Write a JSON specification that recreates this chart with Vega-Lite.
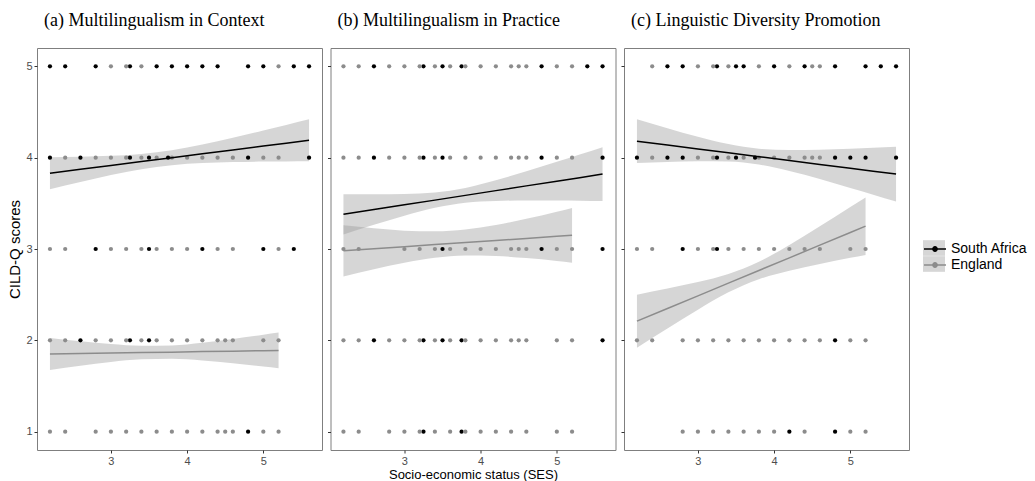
{
"$schema": "https://vega.github.io/schema/vega-lite/v6.json",
"padding": {"left": 7, "top": 11, "right": 0, "bottom": 0},
"background": "white",
"datasets": {
"pts": [
{"p":"a","g":"South Africa","x":2.2,"y":5},{"p":"a","g":"South Africa","x":2.4,"y":5},{"p":"a","g":"South Africa","x":2.8,"y":5},{"p":"a","g":"South Africa","x":3.25,"y":5},{"p":"a","g":"South Africa","x":3.6,"y":5},{"p":"a","g":"South Africa","x":3.8,"y":5},{"p":"a","g":"South Africa","x":4.0,"y":5},{"p":"a","g":"South Africa","x":4.2,"y":5},{"p":"a","g":"South Africa","x":4.4,"y":5},{"p":"a","g":"South Africa","x":4.8,"y":5},{"p":"a","g":"South Africa","x":5.0,"y":5},{"p":"a","g":"South Africa","x":5.4,"y":5},{"p":"a","g":"South Africa","x":5.6,"y":5},
{"p":"a","g":"South Africa","x":2.2,"y":4},{"p":"a","g":"South Africa","x":2.6,"y":4},{"p":"a","g":"South Africa","x":3.25,"y":4},{"p":"a","g":"South Africa","x":3.5,"y":4},{"p":"a","g":"South Africa","x":3.75,"y":4},{"p":"a","g":"South Africa","x":4.8,"y":4},{"p":"a","g":"South Africa","x":5.6,"y":4},
{"p":"a","g":"South Africa","x":2.8,"y":3},{"p":"a","g":"South Africa","x":3.5,"y":3},{"p":"a","g":"South Africa","x":4.2,"y":3},{"p":"a","g":"South Africa","x":5.0,"y":3},{"p":"a","g":"South Africa","x":5.4,"y":3},
{"p":"a","g":"South Africa","x":2.6,"y":2},{"p":"a","g":"South Africa","x":3.25,"y":2},{"p":"a","g":"South Africa","x":3.5,"y":2},
{"p":"a","g":"South Africa","x":4.8,"y":1},
{"p":"a","g":"England","x":3.0,"y":5},{"p":"a","g":"England","x":3.2,"y":5},{"p":"a","g":"England","x":3.4,"y":5},{"p":"a","g":"England","x":5.2,"y":5},
{"p":"a","g":"England","x":2.4,"y":4},{"p":"a","g":"England","x":2.8,"y":4},{"p":"a","g":"England","x":3.0,"y":4},{"p":"a","g":"England","x":3.2,"y":4},{"p":"a","g":"England","x":3.4,"y":4},{"p":"a","g":"England","x":3.6,"y":4},{"p":"a","g":"England","x":3.8,"y":4},{"p":"a","g":"England","x":4.0,"y":4},{"p":"a","g":"England","x":4.2,"y":4},{"p":"a","g":"England","x":4.4,"y":4},{"p":"a","g":"England","x":4.6,"y":4},{"p":"a","g":"England","x":5.0,"y":4},{"p":"a","g":"England","x":5.2,"y":4},
{"p":"a","g":"England","x":2.2,"y":3},{"p":"a","g":"England","x":2.4,"y":3},{"p":"a","g":"England","x":3.0,"y":3},{"p":"a","g":"England","x":3.2,"y":3},{"p":"a","g":"England","x":3.4,"y":3},{"p":"a","g":"England","x":3.6,"y":3},{"p":"a","g":"England","x":3.8,"y":3},{"p":"a","g":"England","x":4.0,"y":3},{"p":"a","g":"England","x":4.4,"y":3},{"p":"a","g":"England","x":4.6,"y":3},{"p":"a","g":"England","x":5.2,"y":3},
{"p":"a","g":"England","x":2.2,"y":2},{"p":"a","g":"England","x":2.4,"y":2},{"p":"a","g":"England","x":2.8,"y":2},{"p":"a","g":"England","x":3.0,"y":2},{"p":"a","g":"England","x":3.2,"y":2},{"p":"a","g":"England","x":3.4,"y":2},{"p":"a","g":"England","x":3.6,"y":2},{"p":"a","g":"England","x":3.8,"y":2},{"p":"a","g":"England","x":4.0,"y":2},{"p":"a","g":"England","x":4.2,"y":2},{"p":"a","g":"England","x":4.4,"y":2},{"p":"a","g":"England","x":4.5,"y":2},{"p":"a","g":"England","x":4.6,"y":2},{"p":"a","g":"England","x":5.0,"y":2},{"p":"a","g":"England","x":5.2,"y":2},
{"p":"a","g":"England","x":2.2,"y":1},{"p":"a","g":"England","x":2.4,"y":1},{"p":"a","g":"England","x":2.8,"y":1},{"p":"a","g":"England","x":3.0,"y":1},{"p":"a","g":"England","x":3.2,"y":1},{"p":"a","g":"England","x":3.4,"y":1},{"p":"a","g":"England","x":3.6,"y":1},{"p":"a","g":"England","x":3.8,"y":1},{"p":"a","g":"England","x":4.0,"y":1},{"p":"a","g":"England","x":4.2,"y":1},{"p":"a","g":"England","x":4.4,"y":1},{"p":"a","g":"England","x":4.5,"y":1},{"p":"a","g":"England","x":4.6,"y":1},{"p":"a","g":"England","x":5.0,"y":1},{"p":"a","g":"England","x":5.2,"y":1},

{"p":"b","g":"South Africa","x":2.6,"y":5},{"p":"b","g":"South Africa","x":3.25,"y":5},{"p":"b","g":"South Africa","x":3.5,"y":5},{"p":"b","g":"South Africa","x":3.75,"y":5},{"p":"b","g":"South Africa","x":4.8,"y":5},{"p":"b","g":"South Africa","x":5.4,"y":5},{"p":"b","g":"South Africa","x":5.6,"y":5},
{"p":"b","g":"South Africa","x":2.6,"y":4},{"p":"b","g":"South Africa","x":3.25,"y":4},{"p":"b","g":"South Africa","x":3.5,"y":4},{"p":"b","g":"South Africa","x":4.8,"y":4},{"p":"b","g":"South Africa","x":5.6,"y":4},
{"p":"b","g":"South Africa","x":3.5,"y":3},{"p":"b","g":"South Africa","x":4.8,"y":3},{"p":"b","g":"South Africa","x":5.6,"y":3},
{"p":"b","g":"South Africa","x":2.6,"y":2},{"p":"b","g":"South Africa","x":3.25,"y":2},{"p":"b","g":"South Africa","x":3.5,"y":2},{"p":"b","g":"South Africa","x":3.75,"y":2},{"p":"b","g":"South Africa","x":5.6,"y":2},
{"p":"b","g":"South Africa","x":3.25,"y":1},{"p":"b","g":"South Africa","x":3.75,"y":1},
{"p":"b","g":"England","x":2.2,"y":5},{"p":"b","g":"England","x":2.4,"y":5},{"p":"b","g":"England","x":2.8,"y":5},{"p":"b","g":"England","x":3.0,"y":5},{"p":"b","g":"England","x":3.2,"y":5},{"p":"b","g":"England","x":3.4,"y":5},{"p":"b","g":"England","x":3.6,"y":5},{"p":"b","g":"England","x":3.8,"y":5},{"p":"b","g":"England","x":4.0,"y":5},{"p":"b","g":"England","x":4.2,"y":5},{"p":"b","g":"England","x":4.4,"y":5},{"p":"b","g":"England","x":4.5,"y":5},{"p":"b","g":"England","x":4.6,"y":5},{"p":"b","g":"England","x":5.0,"y":5},{"p":"b","g":"England","x":5.2,"y":5},
{"p":"b","g":"England","x":2.2,"y":4},{"p":"b","g":"England","x":2.4,"y":4},{"p":"b","g":"England","x":2.8,"y":4},{"p":"b","g":"England","x":3.0,"y":4},{"p":"b","g":"England","x":3.2,"y":4},{"p":"b","g":"England","x":3.4,"y":4},{"p":"b","g":"England","x":3.6,"y":4},{"p":"b","g":"England","x":3.8,"y":4},{"p":"b","g":"England","x":4.0,"y":4},{"p":"b","g":"England","x":4.2,"y":4},{"p":"b","g":"England","x":4.4,"y":4},{"p":"b","g":"England","x":4.5,"y":4},{"p":"b","g":"England","x":4.6,"y":4},{"p":"b","g":"England","x":5.0,"y":4},{"p":"b","g":"England","x":5.2,"y":4},
{"p":"b","g":"England","x":2.2,"y":3},{"p":"b","g":"England","x":2.4,"y":3},{"p":"b","g":"England","x":3.0,"y":3},{"p":"b","g":"England","x":3.2,"y":3},{"p":"b","g":"England","x":3.4,"y":3},{"p":"b","g":"England","x":3.6,"y":3},{"p":"b","g":"England","x":3.8,"y":3},{"p":"b","g":"England","x":4.0,"y":3},{"p":"b","g":"England","x":4.2,"y":3},{"p":"b","g":"England","x":4.4,"y":3},{"p":"b","g":"England","x":4.5,"y":3},{"p":"b","g":"England","x":4.6,"y":3},{"p":"b","g":"England","x":5.0,"y":3},{"p":"b","g":"England","x":5.2,"y":3},
{"p":"b","g":"England","x":2.2,"y":2},{"p":"b","g":"England","x":2.4,"y":2},{"p":"b","g":"England","x":2.8,"y":2},{"p":"b","g":"England","x":3.0,"y":2},{"p":"b","g":"England","x":3.2,"y":2},{"p":"b","g":"England","x":3.4,"y":2},{"p":"b","g":"England","x":3.6,"y":2},{"p":"b","g":"England","x":3.8,"y":2},{"p":"b","g":"England","x":4.0,"y":2},{"p":"b","g":"England","x":4.2,"y":2},{"p":"b","g":"England","x":4.4,"y":2},{"p":"b","g":"England","x":4.5,"y":2},{"p":"b","g":"England","x":4.6,"y":2},{"p":"b","g":"England","x":5.0,"y":2},{"p":"b","g":"England","x":5.2,"y":2},
{"p":"b","g":"England","x":2.2,"y":1},{"p":"b","g":"England","x":2.4,"y":1},{"p":"b","g":"England","x":2.8,"y":1},{"p":"b","g":"England","x":3.0,"y":1},{"p":"b","g":"England","x":3.2,"y":1},{"p":"b","g":"England","x":3.4,"y":1},{"p":"b","g":"England","x":3.6,"y":1},{"p":"b","g":"England","x":3.8,"y":1},{"p":"b","g":"England","x":4.0,"y":1},{"p":"b","g":"England","x":4.2,"y":1},{"p":"b","g":"England","x":4.4,"y":1},{"p":"b","g":"England","x":4.6,"y":1},{"p":"b","g":"England","x":5.0,"y":1},{"p":"b","g":"England","x":5.2,"y":1},

{"p":"c","g":"South Africa","x":2.6,"y":5},{"p":"c","g":"South Africa","x":2.8,"y":5},{"p":"c","g":"South Africa","x":3.25,"y":5},{"p":"c","g":"South Africa","x":3.5,"y":5},{"p":"c","g":"South Africa","x":3.6,"y":5},{"p":"c","g":"South Africa","x":4.0,"y":5},{"p":"c","g":"South Africa","x":4.4,"y":5},{"p":"c","g":"South Africa","x":4.8,"y":5},{"p":"c","g":"South Africa","x":5.2,"y":5},{"p":"c","g":"South Africa","x":5.4,"y":5},{"p":"c","g":"South Africa","x":5.6,"y":5},
{"p":"c","g":"South Africa","x":2.2,"y":4},{"p":"c","g":"South Africa","x":2.6,"y":4},{"p":"c","g":"South Africa","x":2.8,"y":4},{"p":"c","g":"South Africa","x":3.25,"y":4},{"p":"c","g":"South Africa","x":3.5,"y":4},{"p":"c","g":"South Africa","x":3.75,"y":4},{"p":"c","g":"South Africa","x":4.8,"y":4},{"p":"c","g":"South Africa","x":5.0,"y":4},{"p":"c","g":"South Africa","x":5.2,"y":4},{"p":"c","g":"South Africa","x":5.6,"y":4},
{"p":"c","g":"South Africa","x":2.8,"y":3},{"p":"c","g":"South Africa","x":3.25,"y":3},
{"p":"c","g":"South Africa","x":4.8,"y":2},
{"p":"c","g":"South Africa","x":4.2,"y":1},{"p":"c","g":"South Africa","x":4.8,"y":1},
{"p":"c","g":"England","x":2.4,"y":5},{"p":"c","g":"England","x":3.0,"y":5},{"p":"c","g":"England","x":3.2,"y":5},{"p":"c","g":"England","x":3.4,"y":5},{"p":"c","g":"England","x":3.8,"y":5},{"p":"c","g":"England","x":4.2,"y":5},{"p":"c","g":"England","x":4.5,"y":5},{"p":"c","g":"England","x":4.6,"y":5},
{"p":"c","g":"England","x":2.4,"y":4},{"p":"c","g":"England","x":3.0,"y":4},{"p":"c","g":"England","x":3.2,"y":4},{"p":"c","g":"England","x":3.4,"y":4},{"p":"c","g":"England","x":3.6,"y":4},{"p":"c","g":"England","x":3.8,"y":4},{"p":"c","g":"England","x":4.0,"y":4},{"p":"c","g":"England","x":4.2,"y":4},{"p":"c","g":"England","x":4.4,"y":4},{"p":"c","g":"England","x":4.5,"y":4},{"p":"c","g":"England","x":4.6,"y":4},
{"p":"c","g":"England","x":2.2,"y":3},{"p":"c","g":"England","x":2.4,"y":3},{"p":"c","g":"England","x":3.0,"y":3},{"p":"c","g":"England","x":3.2,"y":3},{"p":"c","g":"England","x":3.4,"y":3},{"p":"c","g":"England","x":3.6,"y":3},{"p":"c","g":"England","x":3.8,"y":3},{"p":"c","g":"England","x":4.0,"y":3},{"p":"c","g":"England","x":4.2,"y":3},{"p":"c","g":"England","x":4.4,"y":3},{"p":"c","g":"England","x":4.6,"y":3},{"p":"c","g":"England","x":5.0,"y":3},{"p":"c","g":"England","x":5.2,"y":3},
{"p":"c","g":"England","x":2.2,"y":2},{"p":"c","g":"England","x":2.4,"y":2},{"p":"c","g":"England","x":2.8,"y":2},{"p":"c","g":"England","x":3.0,"y":2},{"p":"c","g":"England","x":3.2,"y":2},{"p":"c","g":"England","x":3.4,"y":2},{"p":"c","g":"England","x":3.6,"y":2},{"p":"c","g":"England","x":3.8,"y":2},{"p":"c","g":"England","x":4.0,"y":2},{"p":"c","g":"England","x":4.2,"y":2},{"p":"c","g":"England","x":4.4,"y":2},{"p":"c","g":"England","x":4.6,"y":2},{"p":"c","g":"England","x":5.0,"y":2},{"p":"c","g":"England","x":5.2,"y":2},
{"p":"c","g":"England","x":2.8,"y":1},{"p":"c","g":"England","x":3.0,"y":1},{"p":"c","g":"England","x":3.2,"y":1},{"p":"c","g":"England","x":3.4,"y":1},{"p":"c","g":"England","x":3.6,"y":1},{"p":"c","g":"England","x":3.8,"y":1},{"p":"c","g":"England","x":4.0,"y":1},{"p":"c","g":"England","x":4.4,"y":1},{"p":"c","g":"England","x":5.0,"y":1},{"p":"c","g":"England","x":5.2,"y":1}
],
"fit": [
{"p":"a","g":"South Africa","x":2.2,"lo":3.655,"fit":3.83,"hi":4.005},{"p":"a","g":"South Africa","x":2.6,"lo":3.734,"fit":3.872,"hi":4.01},{"p":"a","g":"South Africa","x":3.0,"lo":3.81,"fit":3.915,"hi":4.02},{"p":"a","g":"South Africa","x":3.4,"lo":3.873,"fit":3.957,"hi":4.041},{"p":"a","g":"South Africa","x":3.8,"lo":3.917,"fit":3.999,"hi":4.081},{"p":"a","g":"South Africa","x":4.2,"lo":3.94,"fit":4.042,"hi":4.144},{"p":"a","g":"South Africa","x":4.6,"lo":3.951,"fit":4.084,"hi":4.217},{"p":"a","g":"South Africa","x":5.0,"lo":3.957,"fit":4.127,"hi":4.297},{"p":"a","g":"South Africa","x":5.3,"lo":3.958,"fit":4.158,"hi":4.358},{"p":"a","g":"South Africa","x":5.6,"lo":3.96,"fit":4.19,"hi":4.42},
{"p":"a","g":"England","x":2.2,"lo":1.675,"fit":1.85,"hi":2.025},{"p":"a","g":"England","x":2.6,"lo":1.721,"fit":1.855,"hi":1.989},{"p":"a","g":"England","x":3.0,"lo":1.763,"fit":1.861,"hi":1.959},{"p":"a","g":"England","x":3.4,"lo":1.792,"fit":1.866,"hi":1.94},{"p":"a","g":"England","x":3.8,"lo":1.798,"fit":1.871,"hi":1.945},{"p":"a","g":"England","x":4.2,"lo":1.78,"fit":1.877,"hi":1.975},{"p":"a","g":"England","x":4.6,"lo":1.749,"fit":1.882,"hi":2.015},{"p":"a","g":"England","x":5.0,"lo":1.713,"fit":1.887,"hi":2.061},{"p":"a","g":"England","x":5.2,"lo":1.695,"fit":1.89,"hi":2.085},
{"p":"b","g":"South Africa","x":2.2,"lo":3.16,"fit":3.38,"hi":3.6},{"p":"b","g":"South Africa","x":2.6,"lo":3.265,"fit":3.432,"hi":3.599},{"p":"b","g":"South Africa","x":3.0,"lo":3.365,"fit":3.484,"hi":3.603},{"p":"b","g":"South Africa","x":3.4,"lo":3.451,"fit":3.535,"hi":3.619},{"p":"b","g":"South Africa","x":3.8,"lo":3.506,"fit":3.587,"hi":3.668},{"p":"b","g":"South Africa","x":4.2,"lo":3.526,"fit":3.639,"hi":3.752},{"p":"b","g":"South Africa","x":4.6,"lo":3.531,"fit":3.691,"hi":3.851},{"p":"b","g":"South Africa","x":5.0,"lo":3.53,"fit":3.742,"hi":3.954},{"p":"b","g":"South Africa","x":5.3,"lo":3.528,"fit":3.781,"hi":4.034},{"p":"b","g":"South Africa","x":5.6,"lo":3.525,"fit":3.82,"hi":4.115},
{"p":"b","g":"England","x":2.2,"lo":2.7,"fit":2.98,"hi":3.26},{"p":"b","g":"England","x":2.6,"lo":2.779,"fit":3.003,"hi":3.227},{"p":"b","g":"England","x":3.0,"lo":2.849,"fit":3.025,"hi":3.201},{"p":"b","g":"England","x":3.4,"lo":2.903,"fit":3.048,"hi":3.193},{"p":"b","g":"England","x":3.8,"lo":2.928,"fit":3.071,"hi":3.214},{"p":"b","g":"England","x":4.2,"lo":2.923,"fit":3.093,"hi":3.263},{"p":"b","g":"England","x":4.6,"lo":2.901,"fit":3.116,"hi":3.331},{"p":"b","g":"England","x":5.0,"lo":2.869,"fit":3.139,"hi":3.409},{"p":"b","g":"England","x":5.2,"lo":2.85,"fit":3.15,"hi":3.45},
{"p":"c","g":"South Africa","x":2.2,"lo":3.94,"fit":4.18,"hi":4.42},{"p":"c","g":"South Africa","x":2.6,"lo":3.953,"fit":4.138,"hi":4.323},{"p":"c","g":"South Africa","x":3.0,"lo":3.961,"fit":4.095,"hi":4.229},{"p":"c","g":"South Africa","x":3.4,"lo":3.957,"fit":4.053,"hi":4.149},{"p":"c","g":"South Africa","x":3.8,"lo":3.924,"fit":4.011,"hi":4.098},{"p":"c","g":"South Africa","x":4.2,"lo":3.853,"fit":3.968,"hi":4.083},{"p":"c","g":"South Africa","x":4.6,"lo":3.765,"fit":3.926,"hi":4.087},{"p":"c","g":"South Africa","x":5.0,"lo":3.668,"fit":3.883,"hi":4.098},{"p":"c","g":"South Africa","x":5.3,"lo":3.595,"fit":3.852,"hi":4.109},{"p":"c","g":"South Africa","x":5.6,"lo":3.52,"fit":3.82,"hi":4.12},
{"p":"c","g":"England","x":2.2,"lo":1.92,"fit":2.21,"hi":2.5},{"p":"c","g":"England","x":2.6,"lo":2.131,"fit":2.349,"hi":2.567},{"p":"c","g":"England","x":3.0,"lo":2.336,"fit":2.487,"hi":2.638},{"p":"c","g":"England","x":3.4,"lo":2.526,"fit":2.626,"hi":2.727},{"p":"c","g":"England","x":3.8,"lo":2.669,"fit":2.765,"hi":2.861},{"p":"c","g":"England","x":4.2,"lo":2.761,"fit":2.903,"hi":3.045},{"p":"c","g":"England","x":4.6,"lo":2.835,"fit":3.042,"hi":3.249},{"p":"c","g":"England","x":5.0,"lo":2.903,"fit":3.181,"hi":3.459},{"p":"c","g":"England","x":5.2,"lo":2.935,"fit":3.25,"hi":3.565}
]
},
"hconcat": [
{
"width": 285, "height": 402,
"title": {"text": "(a) Multilingualism in Context", "frame": "group", "dx": 7},
"layer": [
{"data": {"name": "fit"}, "transform": [{"filter": "datum.p == 'a'"}],
 "mark": {"type": "area", "interpolate": "monotone", "opacity": 0.4},
 "encoding": {
  "x": {"field": "x", "type": "quantitative", "scale": {"domain": [2.03, 5.77], "nice": false, "zero": false}, "axis": {"values": [3, 4, 5], "format": "d", "title": null}},
  "y": {"field": "lo", "type": "quantitative", "scale": {"domain": [0.8, 5.2], "nice": false, "zero": false}, "axis": {"values": [1, 2, 3, 4, 5], "format": "d", "title": "CILD-Q scores"}},
  "y2": {"field": "hi"},
  "detail": {"field": "g"},
  "fill": {"field": "g", "type": "nominal", "scale": {"domain": ["England", "South Africa"], "range": ["#999999", "#999999"]},
    "legend": {"orient": "none", "legendX": 889, "legendY": 192, "title": null, "symbolType": "M-1.375,-0.98H1.375V0.98H-1.375Z", "symbolSize": 256, "symbolOpacity": 0.4, "symbolStrokeWidth": 0, "labelExpr": "''", "labelFontSize": 14, "rowPadding": 0, "padding": 0, "labelOffset": 7}}
 }},
{"data": {"name": "pts"}, "transform": [{"filter": "datum.p == 'a'"}],
 "mark": {"type": "circle", "size": 18, "opacity": 1},
 "encoding": {
  "x": {"field": "x", "type": "quantitative"},
  "y": {"field": "y", "type": "quantitative"},
  "color": {"field": "g", "type": "nominal", "scale": {"domain": ["South Africa", "England"], "range": ["#000000", "#8c8c8c"]},
    "legend": {"orient": "none", "legendX": 889, "legendY": 192, "title": null, "symbolType": "M-1.375,0H1.375M0.28,0A0.28,0.28,0,1,1,-0.28,0A0.28,0.28,0,1,1,0.28,0Z", "symbolSize": 256, "symbolStrokeWidth": 1.3, "labelFontSize": 14, "labelFont": "Liberation Sans", "labelColor": "#000000", "rowPadding": 0, "padding": 0, "labelOffset": 7,
      "encode": {"symbols": {"update": {"fill": {"scale": "color", "field": "value"}, "stroke": {"scale": "color", "field": "value"}, "opacity": {"value": 1}}}}}}
 }},
{"data": {"name": "fit"}, "transform": [{"filter": "datum.p == 'a'"}],
 "mark": {"type": "line", "strokeWidth": 1.5},
 "encoding": {
  "x": {"field": "x", "type": "quantitative"},
  "y": {"field": "fit", "type": "quantitative"},
  "color": {"field": "g", "type": "nominal"}
 }}
]
},
{
"width": 285, "height": 402,
"title": {"text": "(b) Multilingualism in Practice", "frame": "group", "dx": 7},
"layer": [
{"data": {"name": "fit"}, "transform": [{"filter": "datum.p == 'b'"}],
 "mark": {"type": "area", "interpolate": "monotone", "opacity": 0.4},
 "encoding": {
  "x": {"field": "x", "type": "quantitative", "scale": {"domain": [2.03, 5.77], "nice": false, "zero": false}, "axis": {"values": [3, 4, 5], "format": "d", "title": "Socio-economic status (SES)", "titleFontSize": 13, "titlePadding": 2}},
  "y": {"field": "lo", "type": "quantitative", "scale": {"domain": [0.8, 5.2], "nice": false, "zero": false}, "axis": {"values": [1, 2, 3, 4, 5], "title": null, "labels": false}},
  "y2": {"field": "hi"},
  "detail": {"field": "g"},
  "fill": {"field": "g", "type": "nominal"}
 }},
{"data": {"name": "pts"}, "transform": [{"filter": "datum.p == 'b'"}],
 "mark": {"type": "circle", "size": 18, "opacity": 1},
 "encoding": {
  "x": {"field": "x", "type": "quantitative"},
  "y": {"field": "y", "type": "quantitative"},
  "color": {"field": "g", "type": "nominal"}
 }},
{"data": {"name": "fit"}, "transform": [{"filter": "datum.p == 'b'"}],
 "mark": {"type": "line", "strokeWidth": 1.5},
 "encoding": {
  "x": {"field": "x", "type": "quantitative"},
  "y": {"field": "fit", "type": "quantitative"},
  "color": {"field": "g", "type": "nominal"}
 }}
]
},
{
"width": 285, "height": 402,
"title": {"text": "(c) Linguistic Diversity Promotion", "frame": "group", "dx": 7},
"layer": [
{"data": {"name": "fit"}, "transform": [{"filter": "datum.p == 'c'"}],
 "mark": {"type": "area", "interpolate": "monotone", "opacity": 0.4},
 "encoding": {
  "x": {"field": "x", "type": "quantitative", "scale": {"domain": [2.03, 5.77], "nice": false, "zero": false}, "axis": {"values": [3, 4, 5], "format": "d", "title": null}},
  "y": {"field": "lo", "type": "quantitative", "scale": {"domain": [0.8, 5.2], "nice": false, "zero": false}, "axis": {"values": [1, 2, 3, 4, 5], "title": null, "labels": false}},
  "y2": {"field": "hi"},
  "detail": {"field": "g"},
  "fill": {"field": "g", "type": "nominal"}
 }},
{"data": {"name": "pts"}, "transform": [{"filter": "datum.p == 'c'"}],
 "mark": {"type": "circle", "size": 18, "opacity": 1},
 "encoding": {
  "x": {"field": "x", "type": "quantitative"},
  "y": {"field": "y", "type": "quantitative"},
  "color": {"field": "g", "type": "nominal"}
 }},
{"data": {"name": "fit"}, "transform": [{"filter": "datum.p == 'c'"}],
 "mark": {"type": "line", "strokeWidth": 1.5},
 "encoding": {
  "x": {"field": "x", "type": "quantitative"},
  "y": {"field": "fit", "type": "quantitative"},
  "color": {"field": "g", "type": "nominal"}
 }}
]
}
],
"spacing": 8.5,
"bounds": "flush",
"resolve": {"scale": {"color": "shared", "fill": "shared"}},
"config": {
 "view": {"stroke": "#7f7f7f", "strokeWidth": 1},
 "axis": {"grid": false, "domain": false, "labelFont": "Liberation Sans", "titleFont": "Liberation Sans", "labelFontSize": 11, "labelColor": "#4d4d4d", "tickColor": "#333333", "tickSize": 3, "labelPadding": 2, "titleFontWeight": "normal", "titleColor": "#000000", "titleFontSize": 15, "titlePadding": 3},
 "title": {"font": "Liberation Serif", "fontSize": 18, "fontWeight": "normal", "anchor": "start", "color": "#000000", "offset": 18},
 "legend": {"labelFont": "Liberation Sans"}
}
}
